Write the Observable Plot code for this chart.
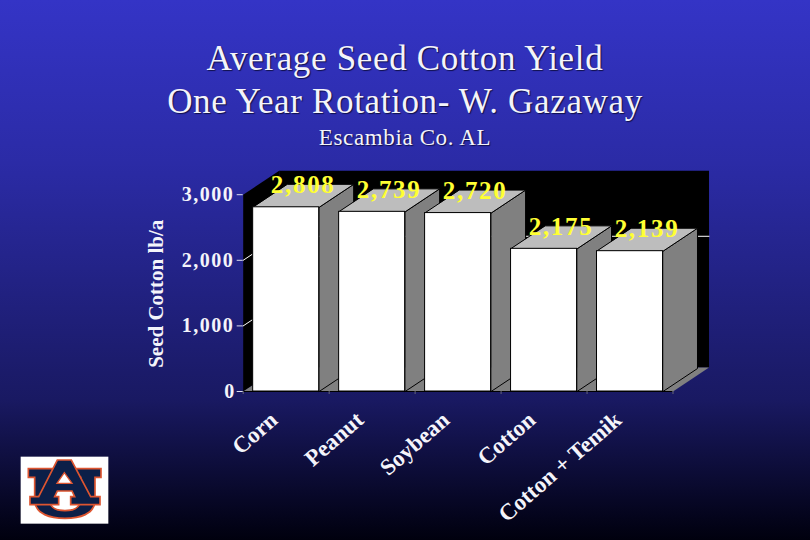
<!DOCTYPE html>
<html><head><meta charset="utf-8">
<script src="https://cdn.jsdelivr.net/npm/d3@7"></script>
<script src="https://cdn.jsdelivr.net/npm/@observablehq/plot@0.6"></script>
<style>
html,body{margin:0;padding:0;background:#000}
#page{position:relative;width:810px;height:540px;overflow:hidden;
 background:linear-gradient(180deg,#3434c6 0%,#2b2ba6 30%,#191962 74%,#00000e 100%);font-family:"Liberation Serif",serif;color:#f4f4fa}
#head{height:160px;text-align:center}
#head div{position:absolute;left:0;width:810px;white-space:nowrap;text-shadow:1px 1px 1px #10104a}
#t1{top:38px;font-size:35px;line-height:42px;letter-spacing:.67px}
#t2{top:81px;font-size:35px;line-height:42px;letter-spacing:.65px}
#t3{top:124px;font-size:23px;line-height:28px;letter-spacing:.63px}
svg.plot{display:block;background:transparent;overflow:visible}
#logo{position:absolute;left:0;top:440px}
</style></head><body>
<div id="page">
<div id="head"><div id="t1">Average Seed Cotton Yield</div><div id="t2">One Year Rotation- W. Gazaway</div><div id="t3">Escambia Co. AL</div></div>
<div id="chart"></div>
<svg id="logo" width="130" height="100" viewBox="0 0 390 300">
 <rect x="62" y="50" width="263" height="201" fill="#fff"/>
 <path d="M85 86H160V112H148V180C150 205 170 212 195 212C220 212 240 205 242 180V112H228V86H303V112H285V185C282 222 240 235 195 235C150 235 108 222 104 185V112H85Z" fill="#0c1f48" stroke="#dd5530" stroke-width="5"/>
 <path d="M172 60H214L272 170H300V194H212V170H224L216 153H172L164 170H176V194H90V170H116Z" fill="#0c1f48" stroke="#dd5530" stroke-width="5"/>
 <path d="M193 98L216 130H171Z" fill="#fff" stroke="#dd5530" stroke-width="4"/>
</svg>
</div>
<script>
const categories = ["Corn", "Peanut", "Soybean", "Cotton", "Cotton + Temik"];
const yields = [2808, 2739, 2720, 2175, 2139];
const yTicks = [0, 1000, 2000, 3000];

const halfBar = 0.384, barDx = 0.401, barDy = 350, wallDx = 0.419, wallDy = 366;
const fmt = d3.format(",");
const poly = (id, pts) => pts.map(([x, y]) => ({id, x, y}));
const bars = yields.map((v, i) => ({cat: categories[i], v, c: i + 0.5, x1: i + 0.5 - halfBar, x2: i + 0.5 + halfBar}));
const sides = bars.flatMap((b, i) => poly(i, [[b.x2, 0], [b.x2 + barDx, barDy], [b.x2 + barDx, b.v + barDy], [b.x2, b.v]]));
const tops = bars.flatMap((b, i) => poly(i, [[b.x1, b.v], [b.x2, b.v], [b.x2 + barDx, b.v + barDy], [b.x1 + barDx, b.v + barDy]]));
const wallLeft = poly("l", [[0, 0], [0, 3000], [wallDx, 3000 + wallDy], [wallDx, wallDy]]);
const wallBack = poly("b", [[wallDx, wallDy], [wallDx, 3000 + wallDy], [5 + wallDx, 3000 + wallDy], [5 + wallDx, wallDy]]);
const floor = poly("f", [[0, 0], [5, 0], [5 + wallDx, wallDy], [wallDx, wallDy]]);
const grid = [1000, 2000].flatMap(v => poly(v, [[0, v], [wallDx, v + wallDy]]));
const gridBack = poly("g", [[wallDx, 2000 + wallDy], [5 + wallDx, 2000 + wallDy]]);
const face = (data, o) => Plot.line(data, {x: "x", y: "y", z: "id", curve: "linear-closed", ...o});

const chart = Plot.plot({
  width: 810, height: 380,
  marginTop: 34.2, marginBottom: 149, marginLeft: 242.7, marginRight: 137.5,
  style: {background: "transparent", fontFamily: "'Liberation Serif',serif", overflow: "visible"},
  x: {domain: [0, 5], range: [242.7, 672.5]},
  y: {domain: [0, 3000], range: [231, 34.2]},
  marks: [
    face(wallBack, {fill: "#000", stroke: "none"}),
    face(wallLeft, {fill: "#000", stroke: "none"}),
    face(floor, {fill: "#808080", stroke: "none"}),
    Plot.line(grid, {x: "x", y: "y", z: "id", stroke: "#fff", strokeWidth: 1}),
    Plot.line(gridBack, {x: "x", y: "y", stroke: "#fff", strokeWidth: 1}),
    face(sides, {fill: "#808080", stroke: "#000", strokeWidth: 1}),
    face(tops, {fill: "#bdbdbd", stroke: "#000", strokeWidth: 1}),
    Plot.rectY(bars, {x1: "x1", x2: "x2", y1: 0, y2: "v", fill: "#fff", stroke: "#000", strokeWidth: 1}),
    Plot.ruleY([0], {stroke: "#000"}),
    Plot.axisX({ticks: [0, 1, 2, 3, 4, 5], tickFormat: () => "", tickSize: 3, stroke: "#667", label: null}),
    Plot.axisY({ticks: yTicks, tickFormat: fmt, tickSize: 6, tickPadding: 3, fontSize: 20, fontWeight: "bold", fill: "#f4f4fa", stroke: "#dde", label: null}),
    Plot.text(bars, {x: "c", y: "v", text: d => fmt(d.v), dx: 17, dy: -22, fill: "#ffff33", fontSize: 25, fontWeight: "bold"}),
    Plot.text(bars, {x: "c", y: 0, text: "cat", rotate: -41, textAnchor: "end", dx: -12, dy: 25, fill: "#f4f4fa", fontSize: 23, fontWeight: "bold"}),
    Plot.text(["Seed Cotton lb/a"], {x: 0, y: 1490, text: d => d, rotate: -90, dx: -87, fill: "#f4f4fa", fontSize: 21, fontWeight: "bold"})
  ]
});
// Plot marks have no letter-spacing option, so it is set on the rendered number labels.
const valueLabels = new Set(yields.map(fmt));
d3.select(chart).selectAll("text").each(function() {
  const t = this.textContent;
  if (valueLabels.has(t)) this.style.letterSpacing = "1.7px";
  else if (/^\d,\d{3}$/.test(t)) this.style.letterSpacing = "1.5px";
});
document.getElementById("chart").appendChild(chart);
</script>
</body></html>
